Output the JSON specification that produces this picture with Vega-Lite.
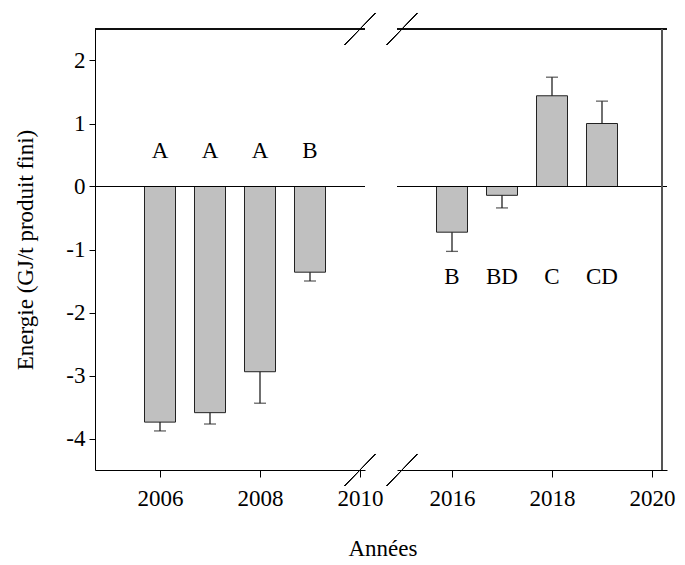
{
  "$schema": "https://vega.github.io/schema/vega-lite/v6.json",
  "background": "white",
  "padding": {"left": 14, "top": 12, "right": 5, "bottom": 5},
  "bounds": "flush",
  "spacing": 32,
  "title": {"text": "Années", "orient": "bottom", "anchor": "middle", "font": "Liberation Serif", "fontSize": 23, "fontWeight": "normal", "color": "black", "offset": 28, "dx": 38},
  "config": {
    "font": "Liberation Serif",
    "view": {"stroke": null},
    "axis": {"domainColor": "black", "tickColor": "black", "labelColor": "black", "titleColor": "black", "labelFont": "Liberation Serif", "titleFont": "Liberation Serif", "labelFontSize": 23, "titleFontSize": 23, "titleFontWeight": "normal", "grid": false, "tickSize": 6, "domainWidth": 1, "tickWidth": 1},
    "text": {"font": "Liberation Serif", "fontSize": 23, "color": "black", "baseline": "middle", "align": "center"}
  },
  "datasets": {
    "left": [
      {"year": 2006, "value": -3.74, "errEnd": -3.88, "letter": "A"},
      {"year": 2007, "value": -3.59, "errEnd": -3.77, "letter": "A"},
      {"year": 2008, "value": -2.94, "errEnd": -3.44, "letter": "A"},
      {"year": 2009, "value": -1.36, "errEnd": -1.50, "letter": "B"}
    ],
    "right": [
      {"year": 2016, "value": -0.725, "errEnd": -1.03, "letter": "B"},
      {"year": 2017, "value": -0.14, "errEnd": -0.34, "letter": "BD"},
      {"year": 2018, "value": 1.44, "errEnd": 1.735, "letter": "C"},
      {"year": 2019, "value": 1.0, "errEnd": 1.355, "letter": "CD"}
    ]
  },
  "hconcat": [
    {
      "width": 270,
      "height": 441,
      "data": {"name": "left"},
      "layer": [
        {
          "mark": {"type": "bar", "fill": "#c0c0c0", "stroke": "#222", "strokeWidth": 1, "width": 31},
          "encoding": {
            "x": {"field": "year", "type": "quantitative", "scale": {"domain": [2004.8, 2010], "nice": false, "zero": false}, "axis": {"values": [2006, 2008, 2010], "title": null, "labelFlush": false, "labelPadding": 10, "tickSize": 7, "labelExpr": "'' + datum.value"}},
            "y": {"field": "value", "type": "quantitative", "scale": {"domain": [-4.5, 2.5], "nice": false}, "axis": {"values": [-4, -3, -2, -1, 0, 1, 2], "title": "Energie (GJ/t produit fini)", "labelPadding": 4, "titlePadding": 28, "labelExpr": "'' + datum.value"}}
          }
        },
        {
          "mark": {"type": "rule", "color": "#222", "strokeWidth": 1.3},
          "encoding": {
            "x": {"field": "year", "type": "quantitative", "scale": {"domain": [2004.8, 2010], "nice": false, "zero": false}},
            "y": {"field": "value", "type": "quantitative", "scale": {"domain": [-4.5, 2.5], "nice": false}},
            "y2": {"field": "errEnd"}
          }
        },
        {
          "mark": {"type": "tick", "orient": "horizontal", "color": "#222", "size": 12, "thickness": 1.3},
          "encoding": {
            "x": {"field": "year", "type": "quantitative", "scale": {"domain": [2004.8, 2010], "nice": false, "zero": false}},
            "y": {"field": "errEnd", "type": "quantitative", "scale": {"domain": [-4.5, 2.5], "nice": false}}
          }
        },
        {
          "mark": {"type": "rule", "color": "black", "strokeWidth": 1},
          "encoding": {"y": {"datum": 0, "type": "quantitative", "scale": {"domain": [-4.5, 2.5], "nice": false}}}
        },
        {
          "mark": {"type": "rule", "color": "black", "strokeWidth": 1},
          "encoding": {"y": {"datum": 2.5, "type": "quantitative", "scale": {"domain": [-4.5, 2.5], "nice": false}}}
        },
        {
          "mark": {"type": "text"},
          "encoding": {
            "x": {"field": "year", "type": "quantitative", "scale": {"domain": [2004.8, 2010], "nice": false, "zero": false}},
            "y": {"datum": 0.556, "type": "quantitative", "scale": {"domain": [-4.5, 2.5], "nice": false}},
            "text": {"field": "letter"}
          }
        },
        {
          "mark": {"type": "rule", "color": "black", "strokeWidth": 1},
          "encoding": {
            "x": {"datum": 2009.69, "type": "quantitative", "scale": {"domain": [2004.8, 2010], "nice": false, "zero": false}},
            "x2": {"datum": 2010.31},
            "y": {"datum": 2.246, "type": "quantitative", "scale": {"domain": [-4.5, 2.5], "nice": false}},
            "y2": {"datum": 2.754}
          }
        },
        {
          "mark": {"type": "rule", "color": "black", "strokeWidth": 1},
          "encoding": {
            "x": {"datum": 2009.69, "type": "quantitative", "scale": {"domain": [2004.8, 2010], "nice": false, "zero": false}},
            "x2": {"datum": 2010.31},
            "y": {"datum": -4.754, "type": "quantitative", "scale": {"domain": [-4.5, 2.5], "nice": false}},
            "y2": {"datum": -4.246}
          }
        }
      ]
    },
    {
      "width": 270,
      "height": 441,
      "data": {"name": "right"},
      "layer": [
        {
          "mark": {"type": "bar", "fill": "#c0c0c0", "stroke": "#222", "strokeWidth": 1, "width": 31},
          "encoding": {
            "x": {"field": "year", "type": "quantitative", "scale": {"domain": [2015, 2020.2], "nice": false, "zero": false}, "axis": {"values": [2016, 2018, 2020], "title": null, "labelFlush": false, "labelPadding": 10, "tickSize": 7, "labelExpr": "'' + datum.value"}},
            "y": {"field": "value", "type": "quantitative", "scale": {"domain": [-4.5, 2.5], "nice": false}, "axis": null}
          }
        },
        {
          "mark": {"type": "rule", "color": "#222", "strokeWidth": 1.3},
          "encoding": {
            "x": {"field": "year", "type": "quantitative", "scale": {"domain": [2015, 2020.2], "nice": false, "zero": false}},
            "y": {"field": "value", "type": "quantitative", "scale": {"domain": [-4.5, 2.5], "nice": false}},
            "y2": {"field": "errEnd"}
          }
        },
        {
          "mark": {"type": "tick", "orient": "horizontal", "color": "#222", "size": 12, "thickness": 1.3},
          "encoding": {
            "x": {"field": "year", "type": "quantitative", "scale": {"domain": [2015, 2020.2], "nice": false, "zero": false}},
            "y": {"field": "errEnd", "type": "quantitative", "scale": {"domain": [-4.5, 2.5], "nice": false}}
          }
        },
        {
          "mark": {"type": "rule", "color": "black", "strokeWidth": 1},
          "encoding": {"y": {"datum": 0, "type": "quantitative", "scale": {"domain": [-4.5, 2.5], "nice": false}}}
        },
        {
          "mark": {"type": "rule", "color": "black", "strokeWidth": 1},
          "encoding": {"y": {"datum": 2.5, "type": "quantitative", "scale": {"domain": [-4.5, 2.5], "nice": false}}}
        },
        {
          "mark": {"type": "rule", "color": "#555", "strokeWidth": 1.5},
          "encoding": {"x": {"datum": 2020.2, "type": "quantitative", "scale": {"domain": [2015, 2020.2], "nice": false, "zero": false}}}
        },
        {
          "mark": {"type": "text"},
          "encoding": {
            "x": {"field": "year", "type": "quantitative", "scale": {"domain": [2015, 2020.2], "nice": false, "zero": false}},
            "y": {"datum": -1.43, "type": "quantitative", "scale": {"domain": [-4.5, 2.5], "nice": false}},
            "text": {"field": "letter"}
          }
        },
        {
          "mark": {"type": "rule", "color": "black", "strokeWidth": 1},
          "encoding": {
            "x": {"datum": 2014.692, "type": "quantitative", "scale": {"domain": [2015, 2020.2], "nice": false, "zero": false}},
            "x2": {"datum": 2015.308},
            "y": {"datum": 2.246, "type": "quantitative", "scale": {"domain": [-4.5, 2.5], "nice": false}},
            "y2": {"datum": 2.754}
          }
        },
        {
          "mark": {"type": "rule", "color": "black", "strokeWidth": 1},
          "encoding": {
            "x": {"datum": 2014.692, "type": "quantitative", "scale": {"domain": [2015, 2020.2], "nice": false, "zero": false}},
            "x2": {"datum": 2015.308},
            "y": {"datum": -4.754, "type": "quantitative", "scale": {"domain": [-4.5, 2.5], "nice": false}},
            "y2": {"datum": -4.246}
          }
        }
      ]
    }
  ]
}
